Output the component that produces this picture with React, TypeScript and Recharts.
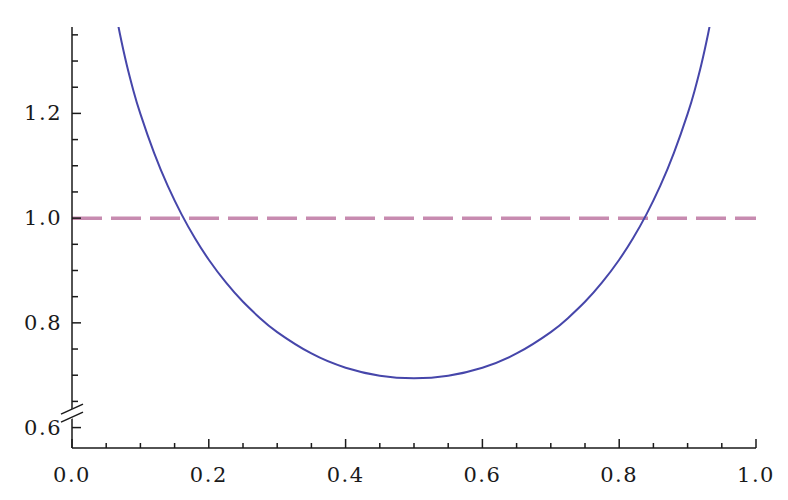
import { LineChart, Line, XAxis, YAxis, ReferenceLine, ReferenceDot } from 'recharts';

// curve samples (x, value)
const xValues = [
  0.06, 0.07, 0.08, 0.09, 0.1, 0.12, 0.14, 0.16, 0.18, 0.2, 0.225, 0.25, 0.275, 0.3, 0.35, 0.4, 0.45,
  0.5,
  0.55, 0.6, 0.65, 0.7, 0.725, 0.75, 0.775, 0.8, 0.82, 0.84, 0.86, 0.88, 0.9, 0.91, 0.92, 0.93, 0.94,
];
const curveValues = [
  1.418, 1.352, 1.293, 1.2425, 1.199, 1.1245, 1.0616, 1.0077, 0.9611, 0.9206, 0.8771, 0.8402, 0.8089, 0.7824, 0.7415, 0.7144, 0.699,
  0.694,
  0.699, 0.7144, 0.7415, 0.7824, 0.8089, 0.8402, 0.8771, 0.9206, 0.9611, 1.0077, 1.0616, 1.1245, 1.199, 1.2425, 1.293, 1.352, 1.418,
];
const referenceLevel = 1.0;
const axisBreakValue = 0.6275;

const xTicks = [
  0, 0.05, 0.1, 0.15, 0.2, 0.25, 0.3, 0.35, 0.4, 0.45, 0.5,
  0.55, 0.6, 0.65, 0.7, 0.75, 0.8, 0.85, 0.9, 0.95, 1.0,
];
const yTicks = [0.6, 0.65, 0.7, 0.75, 0.8, 0.85, 0.9, 0.95, 1.0, 1.05, 1.1, 1.15, 1.2, 1.25, 1.3, 1.35];
const xDomain = [0, 1];
const yDomain = [0.561, 1.365];

const data = xValues.map((x, i) => ({ x, y: curveValues[i] }));

// plot box
const WIDTH = 788;
const HEIGHT = 500;
const LEFT = 72;
const TOP = 27;
const RIGHT = 32;
const BOTTOM = 52;
const AXIS_Y = HEIGHT - BOTTOM;

const INK = '#1a1a1a';
const FONT = '"DejaVu Serif", serif';

const isMajor = (v: number) => Math.abs(v * 5 - Math.round(v * 5)) < 1e-6;

function XTick(props: any) {
  const { x, payload } = props;
  const major = isMajor(payload.value);
  return (
    <g>
      <line x1={x} x2={x} y1={AXIS_Y} y2={AXIS_Y - (major ? 9 : 5)} stroke={INK} strokeWidth={1.5} />
      {major && (
        <text x={x} y={AXIS_Y + 27} textAnchor="middle" dominantBaseline="central"
          fontFamily={FONT} fontSize={21} letterSpacing={1.5} fill={INK}>
          {payload.value.toFixed(1)}
        </text>
      )}
    </g>
  );
}

function YTick(props: any) {
  const { y, payload } = props;
  const major = isMajor(payload.value);
  return (
    <g>
      <line x1={LEFT} x2={LEFT + (major ? 9 : 6)} y1={y} y2={y} stroke={INK} strokeWidth={1.5} />
      {major && (
        <text x={LEFT - 10} y={y} textAnchor="end" dominantBaseline="central"
          fontFamily={FONT} fontSize={21} letterSpacing={1.5} fill={INK}>
          {payload.value.toFixed(1)}
        </text>
      )}
    </g>
  );
}

// the little "//" break on the vertical axis
function AxisBreak(props: any) {
  const { cx, cy } = props;
  return (
    <g>
      <polygon
        points={`${cx - 3},${cy - 3} ${cx + 3},${cy - 6} ${cx + 3},${cy + 4} ${cx - 3},${cy + 7}`}
        fill="#fff"
      />
      <line x1={cx - 11} y1={cy + 1} x2={cx + 11} y2={cy - 9} stroke={INK} strokeWidth={1.5} />
      <line x1={cx - 11} y1={cy + 9} x2={cx + 11} y2={cy - 1} stroke={INK} strokeWidth={1.5} />
    </g>
  );
}

export default function App() {
  return (
    <div style={{ position: 'absolute', left: 0, top: 0, background: '#fff' }}>
      <LineChart
        width={WIDTH}
        height={HEIGHT}
        data={data}
        margin={{ top: TOP, right: RIGHT, left: 0, bottom: 0 }}
      >
        <XAxis
          type="number"
          dataKey="x"
          domain={xDomain}
          ticks={xTicks}
          interval={0}
          height={BOTTOM}
          tickLine={false}
          tick={<XTick />}
          axisLine={{ stroke: INK, strokeWidth: 1.5 }}
          allowDataOverflow
        />
        <YAxis
          type="number"
          domain={yDomain}
          ticks={yTicks}
          interval={0}
          width={LEFT}
          tickLine={false}
          tick={<YTick />}
          axisLine={{ stroke: INK, strokeWidth: 1.5 }}
          allowDataOverflow
        />
        <ReferenceLine
          y={referenceLevel}
          stroke="#c78bb0"
          strokeWidth={3.5}
          strokeDasharray="30 9"
        />
        <Line
          type="natural"
          dataKey="y"
          stroke="#4646aa"
          strokeWidth={2}
          dot={false}
          isAnimationActive={false}
        />
        <ReferenceDot
          x={0}
          y={axisBreakValue}
          ifOverflow="visible"
          shape={<AxisBreak />}
        />
      </LineChart>
    </div>
  );
}
